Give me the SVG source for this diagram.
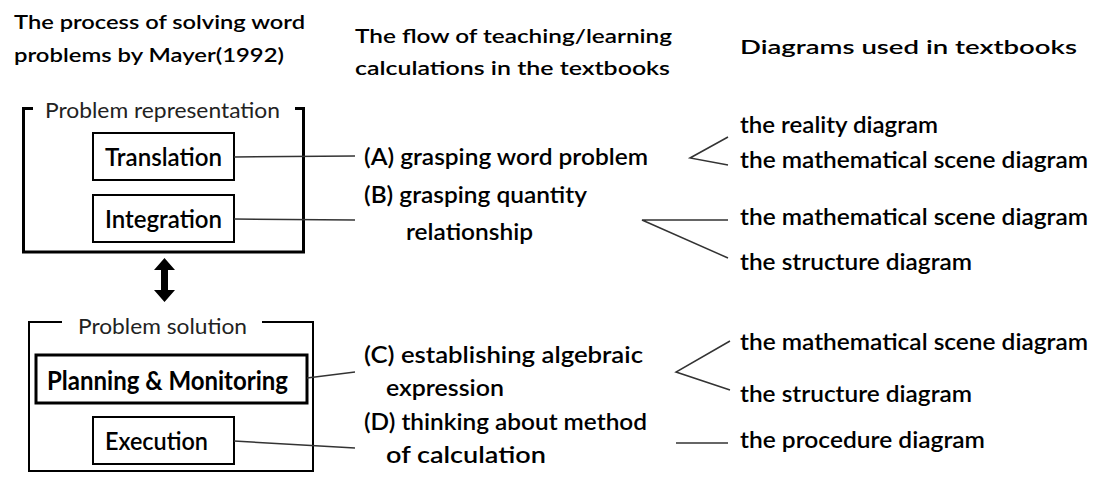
<svg xmlns="http://www.w3.org/2000/svg" width="1094" height="477" viewBox="0 0 1094 477">
<style>
text{font-family:Lato,"Open Sans","Liberation Sans",sans-serif;fill:#000}
.title{font-size:20px;font-weight:600}
.col{font-size:23px;font-weight:600}
.lbl{font-size:21px;fill:#222}
.box{fill:none;stroke:#000;stroke-width:2}
.node{font-size:24px;font-weight:600}
.con{stroke:#333;stroke-width:1.5;fill:none}
</style>
<rect width="1094" height="477" fill="#fff"/>
<g id="titles">
<text class="title" x="14" y="29" textLength="291" lengthAdjust="spacingAndGlyphs">The process of solving word</text>
<text class="title" x="14" y="62" textLength="270" lengthAdjust="spacingAndGlyphs">problems by Mayer(1992)</text>
<text class="title" x="355" y="43" textLength="317" lengthAdjust="spacingAndGlyphs">The flow of teaching/learning</text>
<text class="title" x="355" y="75" textLength="315" lengthAdjust="spacingAndGlyphs">calculations in the textbooks</text>
<text class="title" x="740" y="54" textLength="337" lengthAdjust="spacingAndGlyphs">Diagrams used in textbooks</text>
</g>
<g id="problem-representation">
<path d="M33,108.5 H23.5 V252 H303.5 V108.5 H295" fill="none" stroke="#000" stroke-width="3"/>
<text class="lbl" x="45" y="118" textLength="235" lengthAdjust="spacingAndGlyphs">Problem representation</text>
</g>
<g id="translation">
<rect class="box" x="93" y="133" width="141" height="47"/>
<text class="node" x="105" y="166" textLength="117" lengthAdjust="spacingAndGlyphs">Translation</text>
</g>
<g id="integration">
<rect class="box" x="93" y="195" width="141" height="47"/>
<text class="node" x="105" y="228" textLength="117" lengthAdjust="spacingAndGlyphs">Integration</text>
</g>
<g id="double-arrow">
<polygon points="164.5,258 175,270 168,270 168,290 175,290 164.5,302 154,290 161,290 161,270 154,270" fill="#000"/>
</g>
<g id="problem-solution">
<path d="M62,322 H29 V471 H313 V322 H262" fill="none" stroke="#000" stroke-width="2"/>
<text class="lbl" x="78" y="334" textLength="169" lengthAdjust="spacingAndGlyphs">Problem solution</text>
</g>
<g id="planning">
<rect x="36" y="355" width="271" height="48" fill="none" stroke="#000" stroke-width="3"/>
<text x="47" y="390" style="font-size:26px;font-weight:700" textLength="241" lengthAdjust="spacingAndGlyphs">Planning &amp; Monitoring</text>
</g>
<g id="execution">
<rect class="box" x="93" y="417" width="141" height="47"/>
<text class="node" x="105" y="450" textLength="103" lengthAdjust="spacingAndGlyphs">Execution</text>
</g>
<g id="flow">
<text class="col" x="364" y="165" textLength="284" lengthAdjust="spacingAndGlyphs">(A) grasping word problem</text>
<text class="col" x="364" y="203" textLength="223" lengthAdjust="spacingAndGlyphs">(B) grasping quantity</text>
<text class="col" x="406" y="240" textLength="127" lengthAdjust="spacingAndGlyphs">relationship</text>
<text class="col" x="364" y="363" textLength="279" lengthAdjust="spacingAndGlyphs">(C) establishing algebraic</text>
<text class="col" x="386" y="396" textLength="118" lengthAdjust="spacingAndGlyphs">expression</text>
<text class="col" x="364" y="430" textLength="283" lengthAdjust="spacingAndGlyphs">(D) thinking about method</text>
<text class="col" x="386" y="463" textLength="160" lengthAdjust="spacingAndGlyphs">of calculation</text>
</g>
<g id="diagrams">
<text class="col" x="740" y="133" textLength="198" lengthAdjust="spacingAndGlyphs">the reality diagram</text>
<text class="col" x="740" y="168" textLength="348" lengthAdjust="spacingAndGlyphs">the mathematical scene diagram</text>
<text class="col" x="740" y="225" textLength="348" lengthAdjust="spacingAndGlyphs">the mathematical scene diagram</text>
<text class="col" x="740" y="270" textLength="232" lengthAdjust="spacingAndGlyphs">the structure diagram</text>
<text class="col" x="740" y="350" textLength="348" lengthAdjust="spacingAndGlyphs">the mathematical scene diagram</text>
<text class="col" x="740" y="402" textLength="232" lengthAdjust="spacingAndGlyphs">the structure diagram</text>
<text class="col" x="740" y="448" textLength="245" lengthAdjust="spacingAndGlyphs">the procedure diagram</text>
</g>
<g id="connectors">
<line class="con" x1="234" y1="157" x2="355" y2="156"/>
<line class="con" x1="234" y1="219" x2="355" y2="220"/>
<line class="con" x1="307" y1="378" x2="355" y2="372"/>
<line class="con" x1="234" y1="441" x2="355" y2="448"/>
<polyline class="con" points="728,137 690,158 728,165"/>
<polyline class="con" points="728,220 642,220 728,258"/>
<polyline class="con" points="730,341 676,372 730,390"/>
<line class="con" x1="676" y1="443" x2="728" y2="443"/>
</g>
</svg>
